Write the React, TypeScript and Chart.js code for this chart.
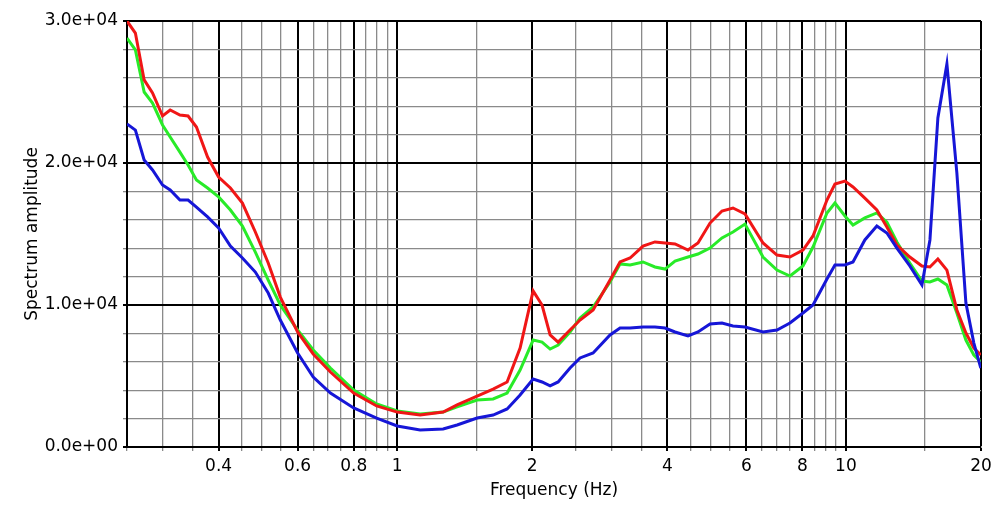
import React, { useEffect, useRef } from 'react';
import { Chart, registerables } from 'chart.js';

Chart.register(...registerables);

// Frequency samples (Hz)
const freqs = [
  0.25, 0.261, 0.273, 0.285, 0.3, 0.312, 0.328, 0.342, 0.357, 0.378,
  0.4, 0.425, 0.452, 0.483, 0.516, 0.549, 0.6, 0.65, 0.71, 0.8,
  0.9, 1.0, 1.125, 1.266, 1.36, 1.507, 1.636, 1.758, 1.879, 2.009,
  2.103, 2.192, 2.284, 2.428, 2.556, 2.733, 2.981, 3.138, 3.304, 3.531,
  3.754, 3.953, 4.161, 4.447, 4.681, 4.979, 5.294, 5.602, 5.958, 6.535,
  7.021, 7.504, 8.022, 8.446, 9.073, 9.453, 9.949, 10.37, 11.02, 11.72,
  12.34, 12.99, 13.88, 14.77, 15.39, 16.03, 16.79, 17.67, 18.51, 19.28,
  19.98,
];

const redSeries = [
  30000, 29150, 25850, 24930, 23310, 23730, 23380, 23310, 22530, 20420,
  19010, 18240, 17180, 15140, 12960, 10560, 8100, 6550, 5280, 3800,
  2890, 2460, 2250, 2460, 2960, 3590, 4080, 4580, 6970, 10990,
  10000, 7890, 7390, 8240, 8940, 9650, 11760, 13030, 13310, 14150,
  14440, 14370, 14300, 13870, 14370, 15770, 16620, 16830, 16410, 14370,
  13520, 13380, 13870, 14860, 17390, 18520, 18730, 18310, 17530, 16690,
  15490, 14220, 13380, 12750, 12680, 13240, 12460, 9650, 8030, 6970,
  6480,
];

const greenSeries = [
  28800, 27960, 25000, 24220, 22680, 21830, 20770, 19860, 18800, 18240,
  17610, 16690, 15560, 13730, 11760, 10000, 8240, 6830, 5560, 4010,
  3030, 2540, 2320, 2460, 2820, 3310, 3380, 3800, 5420, 7530,
  7390, 6900, 7180, 8100, 9080, 9860, 11620, 12890, 12820, 13030,
  12680, 12530, 13100, 13380, 13590, 14010, 14720, 15140, 15700, 13380,
  12460, 12040, 12750, 14080, 16480, 17180, 16270, 15630, 16130, 16480,
  15840, 14440, 12960, 11690, 11620, 11830, 11410, 9440, 7530, 6480,
  5990,
];

const blueSeries = [
  22750, 22320, 20210, 19510, 18450, 18100, 17390, 17390, 16900, 16200,
  15420, 14150, 13310, 12320, 10840, 8940, 6620, 4930, 3800, 2750,
  2040, 1480, 1200, 1270, 1550, 2040, 2250, 2680, 3660, 4790,
  4580, 4300, 4580, 5560, 6270, 6620, 7890, 8380, 8380, 8450,
  8450, 8380, 8100, 7820, 8100, 8660, 8730, 8520, 8450, 8100,
  8240, 8730, 9440, 10000, 11830, 12820, 12820, 13030, 14580, 15560,
  15070, 14010, 12750, 11410, 14580, 23170, 26970, 19300, 10140, 7320,
  5560,
];

// Axis grid / tick definitions
const xGridValues = [
  0.25, 0.3, 0.35, 0.4, 0.45, 0.5, 0.55, 0.6, 0.65, 0.7, 0.75, 0.8, 0.85, 0.9, 0.95,
  1, 1.5, 2, 2.5, 3, 3.5, 4, 4.5, 5, 5.5, 6, 6.5, 7, 7.5, 8, 8.5, 9, 9.5,
  10, 15, 20,
];
const xMajorValues = [0.4, 0.6, 0.8, 1, 2, 4, 6, 8, 10, 20];
const xMajorLabels = ['0.4', '0.6', '0.8', '1', '2', '4', '6', '8', '10', '20'];

const yMin = 0;
const yMax = 30000;
const yMinorStep = 2000;
const yMajorStep = 10000;

const FONT = 'DejaVu Sans, Verdana, sans-serif';

function majorIndex(v: number | undefined): number {
  if (v === undefined || v === null) return -1;
  return xMajorValues.findIndex((m) => Math.abs(m - v) < 1e-6);
}

function fmtExp(v: number): string {
  if (v === 0) return '0.0e+00';
  const e = Math.floor(Math.log10(Math.abs(v)) + 1e-9);
  const m = v / Math.pow(10, e);
  return m.toFixed(1) + 'e' + (e < 0 ? '-' : '+') + String(Math.abs(e)).padStart(2, '0');
}

function isYMajor(v: number | undefined): boolean {
  if (v === undefined || v === null) return false;
  return Math.abs(v % yMajorStep) < 1e-6;
}

export default function App() {
  const canvasRef = useRef<HTMLCanvasElement | null>(null);

  useEffect(() => {
    document.body.style.margin = '0';
    const canvas = canvasRef.current;
    if (!canvas) return;

    const chart = new Chart(canvas, {
      type: 'line',
      data: {
        datasets: [
          {
            label: 'blue',
            data: freqs.map((f, i) => ({ x: f, y: blueSeries[i] })),
            borderColor: 'rgb(22,22,215)',
            borderWidth: 3,
            pointRadius: 0,
            tension: 0,
            fill: false,
          },
          {
            label: 'red',
            data: freqs.map((f, i) => ({ x: f, y: redSeries[i] })),
            borderColor: 'rgb(240,22,22)',
            borderWidth: 3,
            pointRadius: 0,
            tension: 0,
            fill: false,
          },
          {
            label: 'green',
            data: freqs.map((f, i) => ({ x: f, y: greenSeries[i] })),
            borderColor: 'rgb(40,235,40)',
            borderWidth: 3,
            pointRadius: 0,
            tension: 0,
            fill: false,
          },
        ],
      },
      options: {
        animation: false,
        responsive: false,
        maintainAspectRatio: false,
        layout: { padding: { top: 21, right: 21, left: 0, bottom: 0 } },
        plugins: {
          legend: { display: false },
          tooltip: { enabled: false },
        },
        scales: {
          x: {
            type: 'logarithmic',
            min: 0.25,
            max: 20,
            bounds: 'data',
            afterBuildTicks: (scale: any) => {
              scale.ticks = xGridValues.map((v) => ({ value: v }));
            },
            afterFit: (scale: any) => {
              scale.height = 74;
            },
            ticks: {
              autoSkip: false,
              maxRotation: 0,
              minRotation: 0,
              padding: 5,
              color: '#000',
              font: { family: FONT, size: 17 },
              callback: (value: any) => {
                const idx = majorIndex(Number(value));
                return idx >= 0 ? xMajorLabels[idx] : '';
              },
            },
            grid: {
              color: (ctx: any) => (majorIndex(ctx.tick?.value) >= 0 ? '#000' : '#8a8a8a'),
              lineWidth: (ctx: any) => (majorIndex(ctx.tick?.value) >= 0 ? 2 : 1.3),
              tickLength: 4,
              drawTicks: true,
            },
            border: { display: true, color: '#000', width: 2 },
            title: {
              display: true,
              text: 'Frequency (Hz)',
              color: '#000',
              font: { family: FONT, size: 17 },
              padding: { top: 0, bottom: 20 },
            },
          },
          y: {
            type: 'linear',
            min: yMin,
            max: yMax,
            afterFit: (scale: any) => {
              scale.width = 127;
            },
            ticks: {
              stepSize: yMinorStep,
              autoSkip: false,
              padding: 5,
              color: '#000',
              font: { family: FONT, size: 17 },
              callback: (value: any) => (isYMajor(Number(value)) ? fmtExp(Number(value)) : ''),
            },
            grid: {
              color: (ctx: any) => (isYMajor(ctx.tick?.value) ? '#000' : '#8a8a8a'),
              lineWidth: (ctx: any) => (isYMajor(ctx.tick?.value) ? 2 : 1.3),
              tickLength: 4,
              drawTicks: true,
            },
            border: { display: true, color: '#000', width: 2 },
            title: {
              display: true,
              text: 'Spectrum amplitude',
              color: '#000',
              font: { family: FONT, size: 17 },
              padding: { top: 22, bottom: 0 },
            },
          },
        },
      },
    });

    return () => {
      chart.destroy();
    };
  }, []);

  return (
    <div style={{ width: 1002, height: 521, background: '#fff' }}>
      <canvas ref={canvasRef} width={1002} height={521} style={{ display: 'block', width: 1002, height: 521 }} />
    </div>
  );
}
